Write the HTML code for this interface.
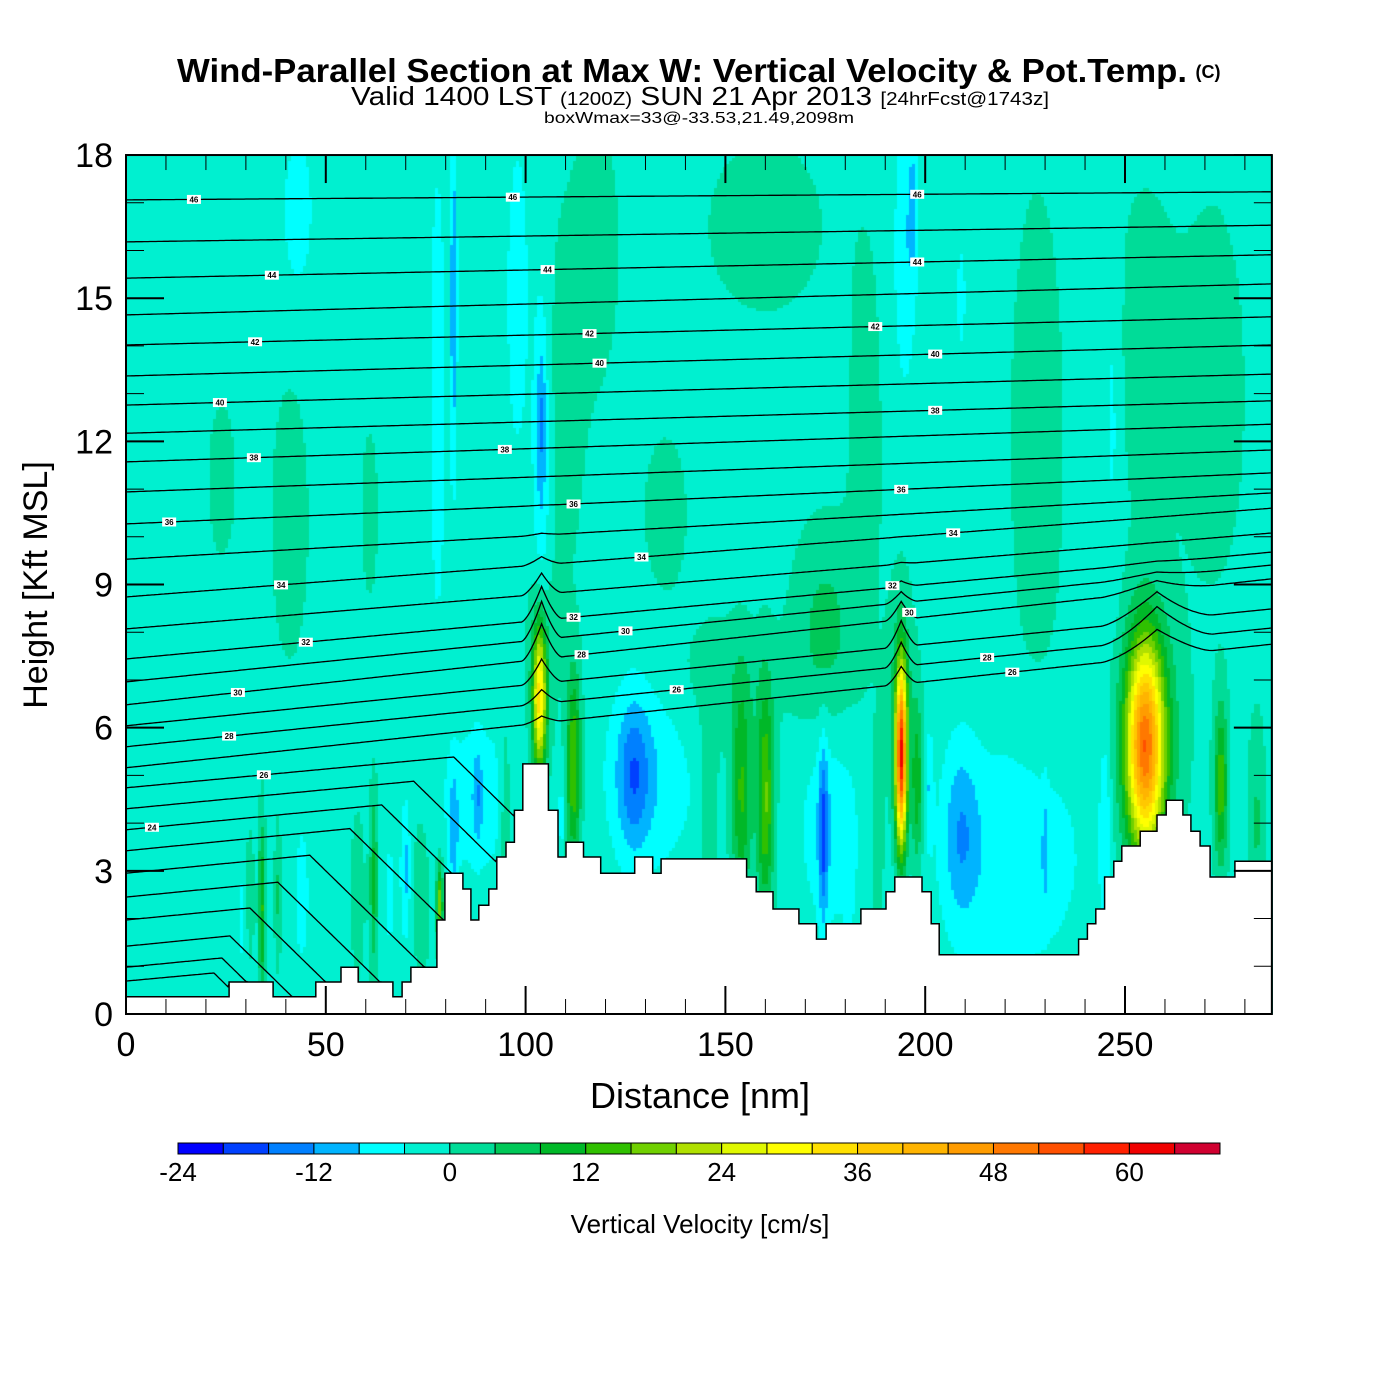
<!DOCTYPE html>
<html><head><meta charset="utf-8"><style>
html,body{margin:0;padding:0;background:#fff;}
#wrap{position:relative;width:1400px;height:1400px;overflow:hidden;font-family:"Liberation Sans",sans-serif;}
#field{position:absolute;left:126px;top:155px;}
#ov{position:absolute;left:0;top:0;}
</style></head><body>
<div id="wrap">
<canvas id="field" width="1147" height="859"></canvas>
<svg id="ov" width="1400" height="1400" xmlns="http://www.w3.org/2000/svg">
<text x="682" y="82" font-size="33" font-weight="bold" text-anchor="middle" textLength="1010" lengthAdjust="spacingAndGlyphs">Wind-Parallel Section at Max W: Vertical Velocity &amp; Pot.Temp.</text>
<text x="1208" y="78" font-size="18" font-weight="bold" text-anchor="middle">(C)</text>
<text x="700" y="105" font-size="26" text-anchor="middle" textLength="698" lengthAdjust="spacingAndGlyphs">Valid 1400 LST <tspan font-size="18">(1200Z)</tspan> SUN 21 Apr 2013 <tspan font-size="18">[24hrFcst@1743z]</tspan></text>
<text x="699" y="123" font-size="16" text-anchor="middle" textLength="310" lengthAdjust="spacingAndGlyphs">boxWmax=33@-33.53,21.49,2098m</text>
<g id="lines"></g>
<g id="labels"></g>
<g id="terrain"></g>
<g id="axes"></g>
<g id="cbar"></g>
<text x="700" y="1108" font-size="36" text-anchor="middle">Distance [nm]</text>
<text transform="translate(47,585) rotate(-90)" font-size="34" text-anchor="middle">Height [Kft MSL]</text>
<text x="700" y="1233" font-size="26" text-anchor="middle">Vertical Velocity [cm/s]</text>
</svg>
</div>
<script>
// ---- data ----
const binColors = ["#0000ff","#0040ff","#0080ff","#00b4ff","#00ffff","#00f0d0","#00dc98","#00c858","#00b828","#30c000","#70d000","#b0e000","#e0f800","#ffff00","#ffe000","#ffc800","#ffb400","#ff9c00","#ff7800","#ff5000","#ff2000","#f00000","#d00030"];
const cbarTicks = [-24,-12,0,12,24,36,48,60];
const baseW = -1.5;
// blobs: center nm, center kft, sigma nm, sigma kft, amplitude cm/s
const blobX =  [24,41,61,118,135,160,185,175,228,272,150,175,110,255,
                43,78,82,98,104,104,195,197,247,209,
                88,82,88,78.5,95,103.5,104,112,109,131,127,146,154,160,176,174.5,181,188,194,194,198,222,209,230,201,255,256,245,274,283,
                34,31,38,29,44,62,58,70,66,74];
const blobY =  [11.2,10.3,10.5,16,10.5,16.5,12,8,12,13,7,8,13,14,
                16.8,13,15,15,11,12.5,16,17,13,15,
                4.5,3.8,4.6,2.3,4,6.6,7.5,5.2,4.2,5,5,4.5,4.6,4.5,4,3.8,3,3.7,5.4,6.5,4.8,3.3,3.8,3.5,4.8,5.6,5.8,4,4.8,4,
                2.2,2.5,2.5,2,2.5,2.8,2.5,3,2.5,2.5];
const blobSX = [2.5,3.5,1.5,4,4,12,3,5,5,6,10,6,4,6,
                3,1.8,0.6,2.5,1.5,0.8,2,0.8,1.5,1.5,
                6,0.8,0.8,0.6,1,1.2,2.5,1.3,0.6,8,2.8,1.5,1.8,1.5,5,0.8,1,1.2,1,2.5,1,12,3,0.5,0.7,3.2,5.5,1,1.2,1.5,
                0.6,0.8,0.6,0.8,1.8,0.7,1.5,0.8,1.5,2];
const blobSY = [1.2,2.2,1.3,2,1.2,1.5,3,1.5,4,3,1,1.5,3,2.5,
                1.3,4.5,2.5,3,3,1,2,1,3,1.5,
                1.2,0.9,0.7,0.6,1.5,1.1,1.5,1.4,0.7,1.4,1.1,1.5,1.6,1.6,1.5,1.3,1,1.5,1.3,1.8,1.2,1.7,1.3,0.8,0.8,1.5,1.9,1.5,1.2,1.5,
                1.3,1,1,0.8,1.5,1.3,1.5,1,1.5,1.5];
const blobA =  [3.5,3.5,3.5,3.5,3.5,3,3.5,3.5,3.5,3.5,3.5,3.5,3,3.5,
                -4.5,-4,-10,-4,-7,-6,-6,-6,-4,-3,
                -5,-8,-6,20,6,33,6,18,-5,-6,-10,5,14,18,-6,-12,-3,4,58,6,12,-6,-8,-5,-6,44,10,-6,16,6,
                14,4,6,-4,-3.5,11,3,-8,-3,3];
// terrain steps: start distance (nm) and height (kft)
const terrX = [0,25.8,36.8,47.5,53.8,58.1,66.8,69.1,71.3,77.8,79.8,84.3,86.3,88.3,90.8,92.8,95.1,97.2,99.3,105.7,108.1,110.1,114.5,118.8,127.3,131.8,133.9,155.3,157.7,161.9,168.4,172.8,175.2,183.9,190.2,192.4,199.2,201.5,203.5,238.4,240.6,242.7,244.9,247.2,249.2,253.8,258.0,260.3,264.5,266.5,268.8,271.3,277.5];
const terrH = [0.36,0.67,0.36,0.67,0.98,0.67,0.36,0.67,0.98,1.97,2.95,2.62,1.97,2.28,2.62,3.29,3.6,4.27,5.24,4.27,3.29,3.6,3.29,2.95,3.29,2.95,3.25,2.87,2.56,2.2,1.89,1.57,1.89,2.2,2.56,2.87,2.56,1.89,1.24,1.57,1.89,2.2,2.87,3.2,3.52,3.83,4.17,4.48,4.17,3.83,3.52,2.87,3.2];
const xMax = 286.75;
// theta contour lines: height at left and right edge (kft), and distance where low lines start diving to the ground
const lineLeft  = [17.06,16.18,15.42,14.65,14.02,13.37,12.76,12.17,11.57,10.94,10.27,9.53,8.74,8.07,7.44,6.96,6.48,6.04,5.60,5.16,4.74,4.30,3.86,3.42,2.95,2.45,1.97,1.42,0.98,0.69];
const lineRight = [17.23,16.53,15.91,15.30,14.61,14.02,13.41,12.85,12.36,11.82,11.34,10.92,10.60,10.08,9.68,9.41,9.12,8.49,8.09,7.75,7.0,6.6,6.2,5.8,5.3,4.8,4.3,3.8,3.3,2.9];
const lineDive  = [999,999,999,999,999,999,999,999,999,999,999,999,999,999,999,999,999,999,999,999,82,72,64,56,46,38,31,26,24,22];
const bumpX = [104,194,258];
const bumpW = [5,4,14];
const bumpA = [0.8,0.55,0.7];
const bumpH = [7.8,7.6,7.9];
const bumpDh = [1.3,1.1,0.9];
// theta labels: text, distance nm, approx height kft
const labText = ["46","46","44","44","42","42","40","40","38","38","36","36","34","34","32","32","30","30","28","28","26","26","24","46","44","42","40","38","36","34","32","30","28","26"];
const labX = [17,96.8,36.5,105.5,32.3,116,23.5,118.5,32,94.8,10.8,112,38.8,129,45,112,28,125,25.8,114,34.5,137.8,6.5,198,198,187.5,202.5,202.5,194,207,191.8,196,215.5,221.8];
const labY = [17.0,17.04,15.4,15.6,14.06,14.5,12.8,13.4,11.7,12.1,10.3,10.8,9.0,9.6,7.75,8.55,6.6,7.9,5.7,7.55,4.97,6.9,3.9,17.35,15.95,14.7,13.6,12.45,11.2,10.2,9.14,8.3,7.63,6.69];
const xTicks = [0,50,100,150,200,250];
const yTicks = [0,3,6,9,12,15,18];

// ---- scales ----
const X = nm => 126 + nm * 3.996;
const Y = k => 1014 - k * 47.72;
const NS = "http://www.w3.org/2000/svg";
function mk(tag, attrs, parent){const e=document.createElementNS(NS,tag);for(const k in attrs)e.setAttribute(k,attrs[k]);parent.appendChild(e);return e;}
function terrainAt(nm){let h=terrH[0];for(let i=0;i<terrX.length;i++){if(nm>=terrX[i])h=terrH[i];}return h;}

// ---- field ----
(function(){
  const c=document.getElementById('field').getContext('2d');
  const cell=3;
  for(let py=0;py<859;py+=cell){
    const k=(1014-(155+py+cell/2))/47.72;
    for(let px=0;px<1147;px+=cell){
      const nm=(px+cell/2)/3.996;
      let v=baseW;
      for(let i=0;i<blobX.length;i++){
        const dx=(nm-blobX[i])/blobSX[i], dy=(k-blobY[i])/blobSY[i];
        const q=dx*dx+dy*dy; if(q<30) v+=blobA[i]*Math.exp(-0.5*q);
      }
      let b=Math.floor((v+24)/4); if(b<0)b=0; if(b>22)b=22;
      c.fillStyle=binColors[b]; c.fillRect(px,py,cell,cell);
    }
  }
})();

// ---- theta lines ----
function lineH(i,nm){
  let h=lineLeft[i]+(lineRight[i]-lineLeft[i])*nm/xMax;
  for(let j=0;j<bumpX.length;j++){
    const t=Math.max(0,1-Math.abs(nm-bumpX[j])/bumpW[j]);
    const wgt=Math.exp(-Math.pow((h-bumpH[j])/bumpDh[j],2));
    h+=bumpA[j]*Math.pow(t,1.5)*wgt;
  }
  if(nm>lineDive[i]) h-=(nm-lineDive[i])*0.09;
  return h;
}
const gL=document.getElementById('lines');
for(let i=0;i<lineLeft.length;i++){
  let pts=[];
  for(let nm=0;nm<=xMax;nm+=0.5){
    const h=lineH(i,nm);
    const tg=terrainAt(nm);
    if(h<tg){pts.push(X(nm).toFixed(1)+','+Y(tg).toFixed(1));break;}
    pts.push(X(nm).toFixed(1)+','+Y(h).toFixed(1));
  }
  const p=mk('polyline',{points:pts.join(' '),fill:'none',stroke:'#000','stroke-width':1.3},gL);
  
  
}
const gLab=document.getElementById('labels');
for(let i=0;i<labText.length;i++){
  let best=0,bd=1e9;
  for(let j=0;j<lineLeft.length;j++){const d=Math.abs(lineH(j,labX[i])-labY[i]);if(d<bd){bd=d;best=j;}}
  const x=X(labX[i]), y=Y(lineH(best,labX[i]));
  const r=mk('rect',{x:x-7,y:y-4.5,width:14,height:9,fill:'#fff'},gLab);
  
  
  const t=mk('text',{x:x,y:y+3,'font-size':8,'font-weight':'bold','text-anchor':'middle'},gLab);
  
  
  t.textContent=labText[i];
}

// ---- terrain ----
(function(){
  let d='M'+X(0)+','+Y(0);
  for(let i=0;i<terrX.length;i++){
    const x0=X(terrX[i]), x1=X(i+1<terrX.length?terrX[i+1]:xMax);
    d+=' L'+x0.toFixed(1)+','+Y(terrH[i]).toFixed(1)+' L'+x1.toFixed(1)+','+Y(terrH[i]).toFixed(1);
  }
  d+=' L'+X(xMax)+','+Y(0)+' Z';
  const p=mk('path',{d:d,fill:'#fff',stroke:'#000','stroke-width':1.5},document.getElementById('terrain'));
  
  
})();

// ---- axes ----
(function(){
  const g=document.getElementById('axes');
  const L=X(0),R=X(xMax),T=Y(18),B=Y(0);
  for(let nm=0;nm<=xMax;nm+=10){
    const big=nm%50===0, len=big?28:15, x=X(nm);
    const a=mk('line',{x1:x,y1:B,x2:x,y2:B-len,stroke:'#000','stroke-width':big?2:1},g);
     
    const b=mk('line',{x1:x,y1:T,x2:x,y2:T+len,stroke:'#000','stroke-width':big?2:1},g);
     
  }
  for(let k=0;k<=18;k++){
    const big=k%3===0, len=big?38:18, y=Y(k);
    const a=mk('line',{x1:L,y1:y,x2:L+len,y2:y,stroke:'#000','stroke-width':big?2:1},g);
     
    const b=mk('line',{x1:R,y1:y,x2:R-len,y2:y,stroke:'#000','stroke-width':big?2:1},g);
     
  }
  const f=mk('rect',{x:L,y:T,width:R-L,height:B-T,fill:'none',stroke:'#000','stroke-width':2},g);
   
  xTicks.forEach(v=>{
    const t=mk('text',{x:X(v),y:1056,'font-size':34,'text-anchor':'middle'},g);
     
    t.textContent=v;
  });
  yTicks.forEach(v=>{
    const t=mk('text',{x:113,y:Y(v)+12,'font-size':34,'text-anchor':'end'},g);
     
    t.textContent=v;
  });
})();

// ---- colorbar ----
(function(){
  const g=document.getElementById('cbar');
  const cx=v=>178+(v+24)*(1042/92);
  for(let i=0;i<binColors.length;i++){
    const r=mk('rect',{x:cx(-24+4*i),y:1143,width:1042/23,height:11,fill:binColors[i],stroke:'#000','stroke-width':1},g);
     
  }
  cbarTicks.forEach(v=>{
    const t=mk('text',{x:cx(v),y:1181,'font-size':26,'text-anchor':'middle'},g);
     
    t.textContent=v;
  });
})();
</script>
</body></html>
